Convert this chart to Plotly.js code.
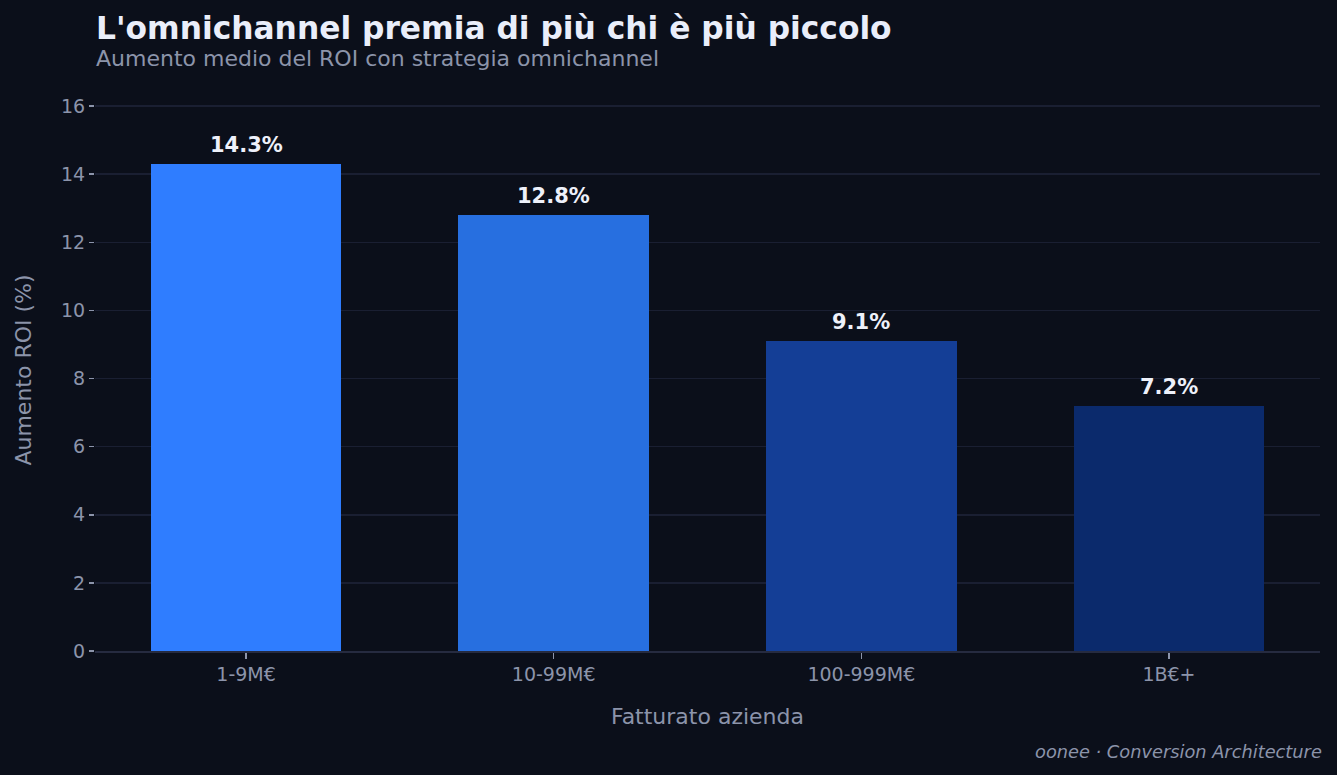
<!DOCTYPE html>
<html>
<head>
<meta charset="utf-8">
<script src="https://cdn.plot.ly/plotly-3.0.1.min.js"></script>
<style>
html,body{margin:0;padding:0;background:#0b0f1a;}
#chart{width:1337px;height:775px;}
</style>
</head>
<body>
<div id="chart"></div>
<script>
const categories = ["1-9M€", "10-99M€", "100-999M€", "1B€+"];
const roiIncrease = [14.3, 12.8, 9.1, 7.2];
const barColors = ["#2f7dff", "#276fe0", "#143e96", "#0b2a6c"];
const valueLabels = ["14.3%", "12.8%", "9.1%", "7.2%"];
const yTicks = [0, 2, 4, 6, 8, 10, 12, 14, 16];

const font = "DejaVu Sans, sans-serif";
const trace = {
  type: "bar",
  x: categories,
  y: roiIncrease,
  width: 0.62,
  marker: {color: barColors, line: {width: 0}},
  hoverinfo: "skip"
};

const annotations = categories.map((c, i) => ({
  x: c, y: roiIncrease[i], xref: "x", yref: "y",
  text: "<b>" + valueLabels[i] + "</b>", showarrow: false,
  yanchor: "bottom", yshift: 5,
  font: {family: font, size: 21, color: "#eef1fa"}
}));

annotations.push({
  xref: "paper", yref: "paper", x: 0, y: 1, xanchor: "left", yanchor: "bottom",
  xshift: -1, yshift: 41,
  text: "<b>L'omnichannel premia di più chi è più piccolo</b>", showarrow: false,
  font: {family: font, size: 31.3, color: "#eaeefa"}
});
annotations.push({
  xref: "paper", yref: "paper", x: 0, y: 1, xanchor: "left", yanchor: "bottom",
  xshift: -1, yshift: 16,
  text: "Aumento medio del ROI con strategia omnichannel", showarrow: false,
  font: {family: font, size: 22, color: "#8c94aa"}
});
annotations.push({
  xref: "paper", yref: "paper", x: 1, y: 0, xanchor: "right", yanchor: "top",
  xshift: 4, yshift: -88,
  text: "<i>oonee · Conversion Architecture</i>", showarrow: false,
  font: {family: font, size: 17.8, color: "#8c94aa"}
});

const layout = {
  width: 1337, height: 775,
  paper_bgcolor: "#0b0f1a", plot_bgcolor: "#0b0f1a",
  margin: {l: 95, r: 17, t: 89, b: 124},
  showlegend: false,
  bargap: 0,
  font: {family: font, color: "#8c94aa"},
  xaxis: {
    type: "category",
    range: [-0.491, 3.491],
    showgrid: false,
    showline: true, linecolor: "#262b40", linewidth: 1.5,
    ticks: "outside", ticklen: 6, tickcolor: "#8c94aa", tickwidth: 1.5,
    tickfont: {family: font, size: 19, color: "#8c94aa"},
    title: {text: "Fatturato azienda", font: {family: font, size: 22, color: "#8c94aa"}, standoff: 24},
    zeroline: false
  },
  yaxis: {
    range: [0, 16.5],
    tickvals: yTicks,
    showgrid: true, gridcolor: "#1a1f32", gridwidth: 1.5,
    showline: false, zeroline: false,
    ticks: "outside", ticklen: 5, tickcolor: "#8c94aa", tickwidth: 1.5,
    tickfont: {family: font, size: 19, color: "#8c94aa"},
    title: {text: "Aumento ROI (%)", font: {family: font, size: 22, color: "#8c94aa"}, standoff: 23}
  },
  annotations: annotations
};

Plotly.newPlot("chart", [trace], layout, {displayModeBar: false, staticPlot: true});
</script>
</body>
</html>
